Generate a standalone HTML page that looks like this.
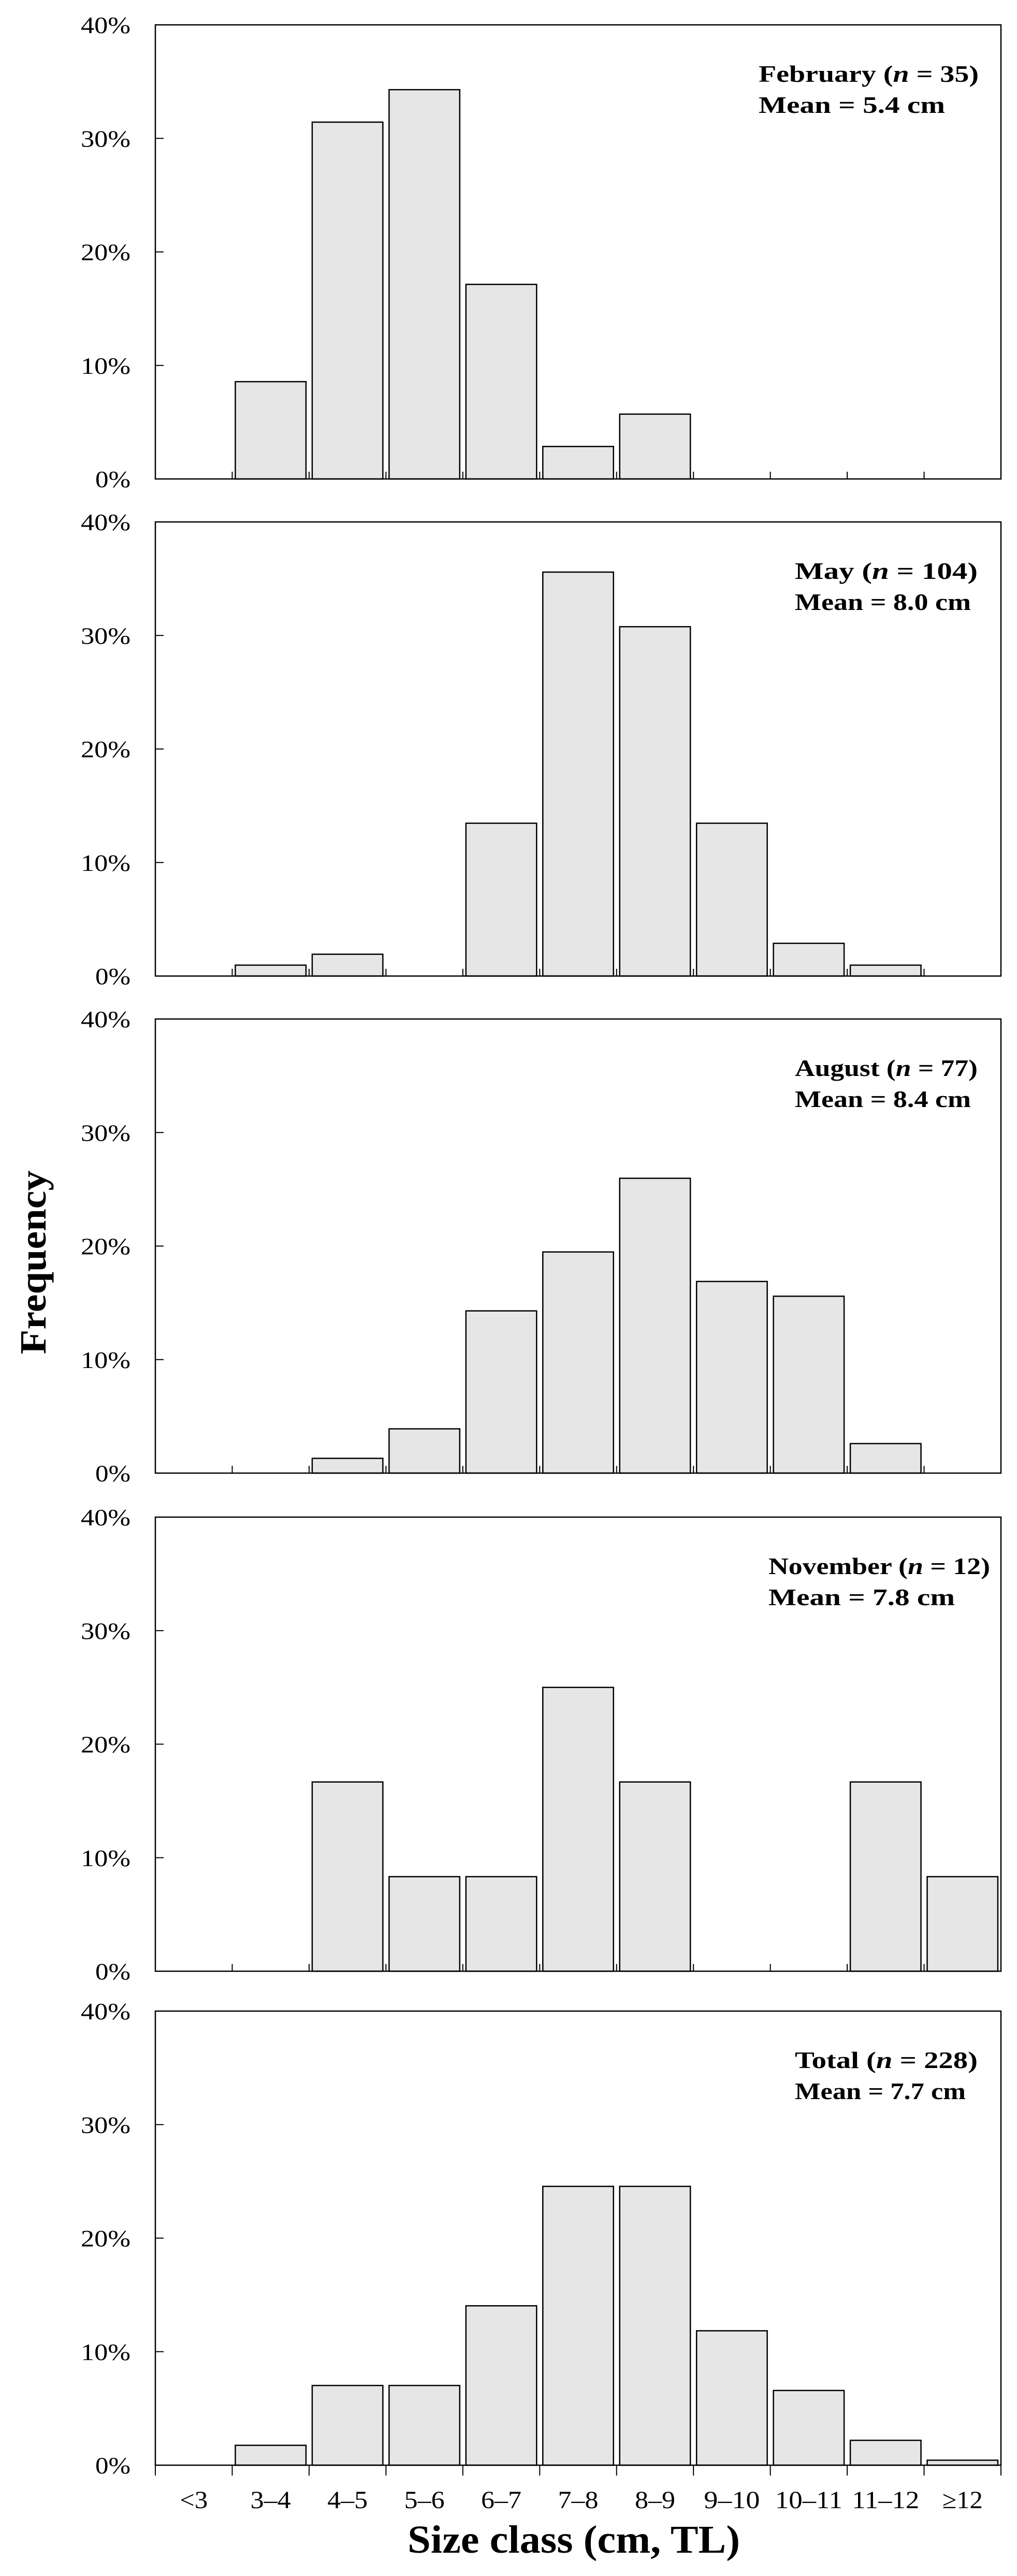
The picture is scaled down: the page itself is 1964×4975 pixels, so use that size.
<!DOCTYPE html>
<html><head><meta charset="utf-8">
<style>
html,body{margin:0;padding:0;background:#fff;}
svg{display:block;font-family:"Liberation Serif",serif;}
</style></head>
<body>
<svg id="chart" width="1964" height="4975" viewBox="0 0 1964 4975" xmlns="http://www.w3.org/2000/svg"></svg>
<script>
const categories = ["<3","3–4","4–5","5–6","6–7","7–8","8–9","9–10","10–11","11–12","≥12"];
const febValues = [0, 8.57, 31.43, 34.29, 17.14, 2.86, 5.71, 0, 0, 0, 0];
const mayValues = [0, 0.96, 1.92, 0, 13.46, 35.58, 30.77, 13.46, 2.88, 0.96, 0];
const augValues = [0, 0, 1.30, 3.90, 14.29, 19.48, 25.97, 16.88, 15.58, 2.60, 0];
const novValues = [0, 0, 16.67, 8.33, 8.33, 25.0, 16.67, 0, 0, 16.67, 8.33];
const totValues = [0, 1.75, 7.02, 7.02, 14.04, 24.56, 24.56, 11.84, 6.58, 2.19, 0.44];
const yTicks = [0, 10, 20, 30, 40];
const yTickLabels = ["0%","10%","20%","30%","40%"];
const panelMonths = ["February","May","August","November","Total"];
const panelN = ["35","104","77","12","228"];
const panelMeans = ["Mean = 5.4 cm","Mean = 8.0 cm","Mean = 8.4 cm","Mean = 7.8 cm","Mean = 7.7 cm"];

const NS = "http://www.w3.org/2000/svg";
const svg = document.getElementById("chart");
const L = 300, R = 1933, PH = 877;
const tops = [48, 1008, 1968, 2930, 3884];
const textX = [1465, 1535, 1535, 1484, 1535];
const textW1 = [425, 353, 353, 428, 353];
const textW2 = [360, 340, 340, 360, 330];
const series = [febValues, mayValues, augValues, novValues, totValues];
const n = categories.length;
const cw = (R - L) / n;
function xPos(i){ return L + i * cw; }
function mk(tag, attrs, parent){
  const e = document.createElementNS(NS, tag);
  for (const k in attrs) e.setAttribute(k, attrs[k]);
  (parent || svg).appendChild(e);
  return e;
}

series.forEach((vals, p) => {
  const top = tops[p], bot = top + PH;
  const yPos = v => bot - (v / 40) * PH;
  const g = mk("g", {});
  
  
  vals.forEach((v, i) => {
    if (v <= 0) return;
    const r = mk("rect", {x: xPos(i) + 6, y: yPos(v), width: cw - 12, height: bot - yPos(v), fill: "#e6e6e6", stroke: "#000", "stroke-width": 2.5}, g);
    
    
  });
  const fr = mk("rect", {x: L, y: top, width: R - L, height: PH, fill: "none", stroke: "#000", "stroke-width": 2.5}, g);
  
  
  yTicks.forEach((t, k) => {
    const y = yPos(t);
    mk("line", {x1: L, x2: L + 16, y1: y, y2: y, stroke: "#000", "stroke-width": 2}, g);
    const tx = mk("text", {x: 252, y: y + 16, "text-anchor": "end", "font-size": 46, textLength: yTickLabels[k].length === 2 ? 68 : 96, lengthAdjust: "spacingAndGlyphs"}, g);
    tx.textContent = yTickLabels[k];
    
    
  });
  for (let i = 1; i <= n; i++) {
    const x = xPos(i);
    if (p === 4) mk("line", {x1: x, x2: x, y1: bot, y2: bot + 20, stroke: "#000", "stroke-width": 2}, g);
    else mk("line", {x1: x, x2: x, y1: bot, y2: bot - 14, stroke: "#000", "stroke-width": 2}, g);
  }
  if (p === 4) mk("line", {x1: L, x2: L, y1: bot, y2: bot + 20, stroke: "#000", "stroke-width": 2}, g);
  const t1 = mk("text", {x: textX[p], y: top + 110, "font-size": 46, "font-weight": "bold", textLength: textW1[p], lengthAdjust: "spacingAndGlyphs"}, g);
  
  
  const s1 = mk("tspan", {}, t1); s1.textContent = panelMonths[p] + (p===0||p===2 ? "  (" : " (");
  const s2 = mk("tspan", {"font-style": "italic"}, t1); s2.textContent = "n";
  const s3 = mk("tspan", {}, t1); s3.textContent = " = " + panelN[p] + ")";
  const t2 = mk("text", {x: textX[p], y: top + 170, "font-size": 46, "font-weight": "bold", textLength: textW2[p], lengthAdjust: "spacingAndGlyphs"}, g);
  t2.textContent = panelMeans[p];
  
  
});

categories.forEach((c, i) => {
  const w = c.length >= 5 ? 130 : (c.length === 4 ? 108 : (c.length === 2 ? 54 : 78));
  const t = mk("text", {x: xPos(i) + cw / 2, y: 4844, "text-anchor": "middle", "font-size": 48, textLength: w, lengthAdjust: "spacingAndGlyphs"});
  t.textContent = c;
  
  
});
const xt = mk("text", {x: 1108, y: 4930, "text-anchor": "middle", "font-size": 76, "font-weight": "bold", textLength: 642, lengthAdjust: "spacingAndGlyphs"});
xt.textContent = "Size class (cm, TL)";


const yt = mk("text", {x: 0, y: 0, "text-anchor": "middle", "font-size": 72, "font-weight": "bold", textLength: 355, lengthAdjust: "spacingAndGlyphs", transform: "translate(88,2438) rotate(-90)"});
yt.textContent = "Frequency";


</script>
</body></html>
